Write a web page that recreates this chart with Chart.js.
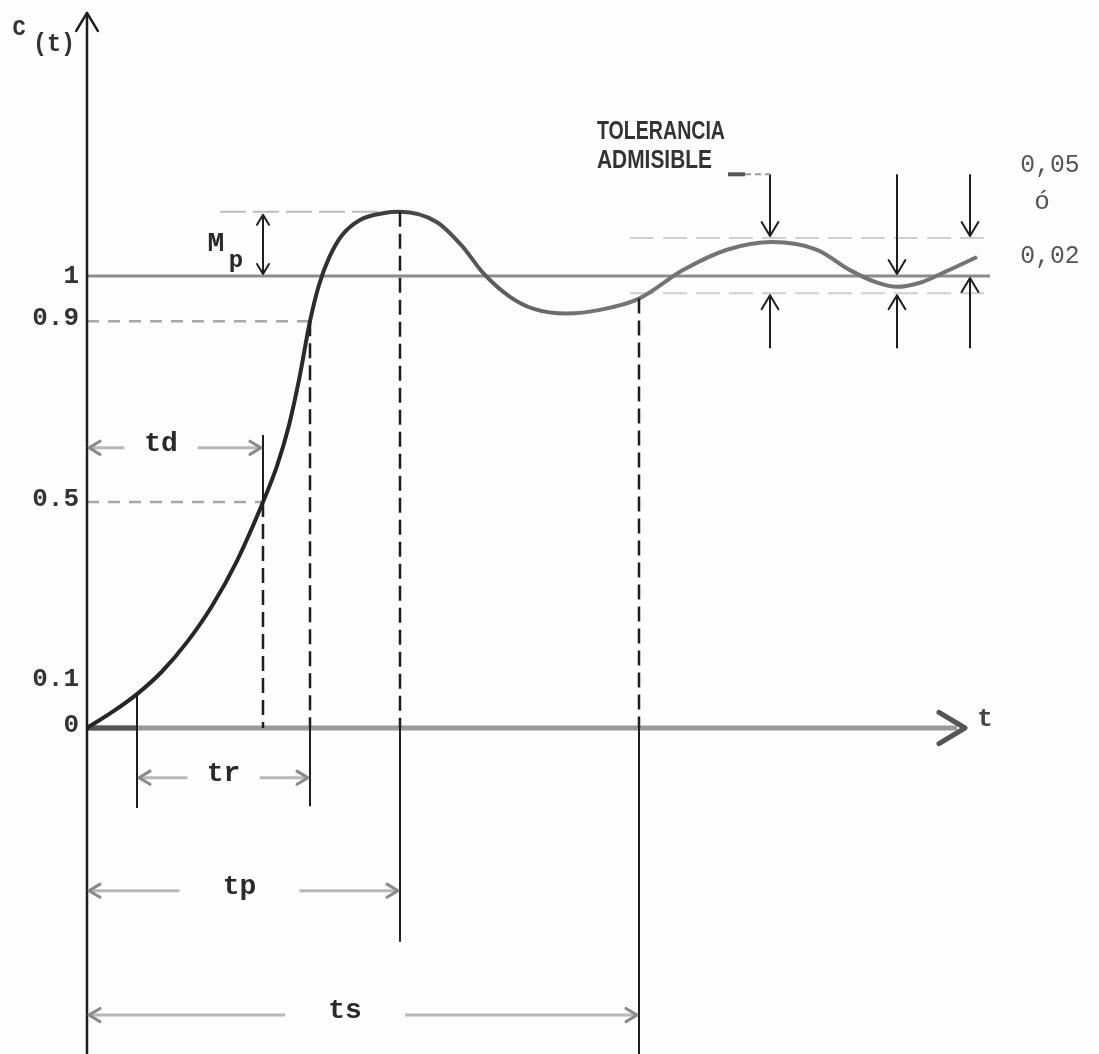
<!DOCTYPE html>
<html>
<head>
<meta charset="utf-8">
<title>Respuesta transitoria c(t)</title>
<script src="https://cdn.jsdelivr.net/npm/chart.js@4.4.1/dist/chart.umd.min.js"></script>
<style>
  html, body { margin: 0; padding: 0; background: #fff; }
  #wrap { width: 1099px; height: 1054px; position: relative; }
</style>
</head>
<body>
<div id="wrap"><canvas id="respuesta"></canvas></div>
<script>
// curva c(t): tiempos y valores
const times = [0, 0.25, 0.5, 0.75, 1.0, 1.25, 1.5, 1.76, 1.9, 2.02, 2.12, 2.23, 2.32, 2.42, 2.55, 2.73, 2.96, 3.13,
  3.5, 3.76, 3.96, 4.23, 4.46, 4.8, 5.13, 5.52, 5.96, 6.4, 6.85, 7.3, 7.63, 7.88, 8.1, 8.33, 8.58, 8.9];
const response = [0, 0.035, 0.075, 0.125, 0.19, 0.27, 0.37, 0.5, 0.58, 0.67, 0.77, 0.9, 0.98, 1.04, 1.09, 1.124, 1.139, 1.142,
  1.119, 1.064, 1.007, 0.954, 0.928, 0.917, 0.925, 0.95, 1.013, 1.058, 1.075, 1.058, 1.013, 0.987, 0.976, 0.985, 1.009, 1.042];

// niveles marcados en el eje c(t)
const levelValues = [0, 0.1, 0.5, 0.9, 1];
const levelLabels = ['0', '0.1', '0.5', '0.9', '1'];

// tiempos caracteristicos: retardo, subida, pico, establecimiento
const markerNames = ['td', 'tr', 'tp', 'ts'];
const markerFrom = [0, 0.5, 0, 0];
const markerTo = [1.76, 2.23, 3.13, 5.52];

// banda de tolerancia alrededor del valor final
const toleranceBand = [0.962, 1.084];
const toleranceLabels = ['0,05', 'ó', '0,02'];
const toleranceTitle = ['TOLERANCIA', 'ADMISIBLE'];

const MONO = '"Liberation Mono", "DejaVu Sans Mono", monospace';

function seg(ctx, x1, y1, x2, y2, color, width, dash) {
  ctx.save();
  ctx.strokeStyle = color;
  ctx.lineWidth = width;
  ctx.setLineDash(dash || []);
  ctx.beginPath();
  ctx.moveTo(x1, y1);
  ctx.lineTo(x2, y2);
  ctx.stroke();
  ctx.restore();
}

// punta de flecha abierta (V) apuntando segun el angulo
function head(ctx, x, y, angle, size, color, width) {
  ctx.save();
  ctx.translate(x, y);
  ctx.rotate(angle);
  ctx.strokeStyle = color;
  ctx.lineWidth = width;
  ctx.lineCap = 'round';
  ctx.lineJoin = 'round';
  ctx.beginPath();
  ctx.moveTo(-size, -size * 0.6);
  ctx.lineTo(0, 0);
  ctx.lineTo(-size, size * 0.6);
  ctx.stroke();
  ctx.restore();
}

function txt(ctx, s, x, y, font, align, color, scaleX) {
  ctx.save();
  ctx.font = font;
  ctx.fillStyle = color || '#222';
  ctx.textAlign = align || 'center';
  ctx.textBaseline = 'middle';
  ctx.translate(x, y);
  ctx.scale(scaleX || 1, 1);
  ctx.fillText(s, 0, 0);
  ctx.restore();
}

const RIGHT = 0, LEFT = Math.PI, DOWN = Math.PI / 2, UP = -Math.PI / 2;

// valor de la curva en un tiempo dado (interpolacion lineal entre lecturas)
function valueAt(t) {
  for (let i = 1; i < times.length; i++) {
    if (t <= times[i]) {
      const k = (t - times[i - 1]) / (times[i] - times[i - 1]);
      return response[i - 1] + k * (response[i] - response[i - 1]);
    }
  }
  return response[response.length - 1];
}

const diagram = {
  id: 'diagram',
  beforeDraw(chart) {
    const { ctx, width, height } = chart;
    ctx.save();
    ctx.fillStyle = '#fdfdfd';
    ctx.fillRect(0, 0, width, height);
    ctx.restore();
  },
  beforeDatasetsDraw(chart) {
    const ctx = chart.ctx;
    const px = v => chart.scales.x.getPixelForValue(v);
    const py = v => chart.scales.y.getPixelForValue(v);
    const peak = Math.max(...response);

    // valor final y banda de tolerancia
    seg(ctx, px(0), py(1), px(9.03), py(1), '#8c8c8c', 3);
    seg(ctx, px(5.43), py(toleranceBand[1]), px(9.03), py(toleranceBand[1]), '#cfcfcf', 2, [24, 9]);
    seg(ctx, px(5.43), py(toleranceBand[0]), px(9.03), py(toleranceBand[0]), '#cfcfcf', 2, [24, 9]);

    // lineas guia 0.9, 0.5 y sobrepaso
    seg(ctx, px(0), py(0.9), px(markerTo[1]), py(0.9), '#a8a8a8', 2.5, [12, 9]);
    seg(ctx, px(0), py(0.5), px(markerTo[0]), py(0.5), '#a8a8a8', 2.5, [12, 9]);
    seg(ctx, px(1.33), py(peak), px(markerTo[2]), py(peak), '#bdbdbd', 2, [26, 7]);

    // eje de tiempo
    seg(ctx, px(0), py(0), px(8.7), py(0), '#9a9a9a', 5);
    seg(ctx, px(0), py(0), px(markerFrom[1]), py(0), '#555', 5);
    head(ctx, px(8.78), py(0), RIGHT, 26, '#555', 5);
  },
  afterDatasetsDraw(chart) {
    const ctx = chart.ctx;
    const px = v => chart.scales.x.getPixelForValue(v);
    const py = v => chart.scales.y.getPixelForValue(v);
    const peak = Math.max(...response);
    const dash = [15, 7];
    const ink = '#1e1e1e';

    // eje c(t)
    seg(ctx, px(0), py(-0.73), px(0), py(1.58), ink, 2.5);
    head(ctx, px(0), py(1.582), UP, 18, ink, 2.5);
    txt(ctx, 'C', 19, 29, 'bold 22px ' + MONO, 'center', '#333');
    txt(ctx, '(t)', 54, 44, 'bold 26px ' + MONO, 'center', '#333', 0.9);

    levelValues.forEach((v, i) => {
      txt(ctx, levelLabels[i], px(0) - 8, py(v) + (v === 1 ? 0 : -3), 'bold 26px ' + MONO, 'right', '#333');
    });

    // verticales de cada tiempo caracteristico
    seg(ctx, px(markerFrom[1]), py(valueAt(markerFrom[1])), px(markerFrom[1]), py(-0.177), ink, 2);
    seg(ctx, px(markerTo[0]), py(0.648), px(markerTo[0]), py(0.5), ink, 2);
    seg(ctx, px(markerTo[0]), py(0.5), px(markerTo[0]), py(0), ink, 2.5, dash);
    seg(ctx, px(markerTo[1]), py(0.9), px(markerTo[1]), py(0), ink, 2.5, dash);
    seg(ctx, px(markerTo[1]), py(0), px(markerTo[1]), py(-0.173), ink, 2);
    seg(ctx, px(markerTo[2]), py(peak), px(markerTo[2]), py(0), ink, 2.5, dash);
    seg(ctx, px(markerTo[2]), py(0), px(markerTo[2]), py(-0.473), ink, 2);
    seg(ctx, px(markerTo[3]), py(valueAt(markerTo[3])), px(markerTo[3]), py(0), ink, 2.5, dash);
    seg(ctx, px(markerTo[3]), py(0), px(markerTo[3]), py(-0.73), ink, 2);

    // cotas td, tr, tp, ts
    const rows = [0.62, -0.11, -0.36, -0.635];
    const textShift = [-14, 0, -4, -18];
    markerNames.forEach((name, i) => {
      const x0 = px(markerFrom[i]), x1 = px(markerTo[i]), yy = py(rows[i]);
      const mid = (x0 + x1) / 2 + textShift[i];
      const gap = Math.min(60, 0.18 * (x1 - x0) + 5);
      seg(ctx, x0 + 3, yy, mid - gap, yy, '#b8b8b8', 3);
      seg(ctx, mid + gap, yy, x1 - 3, yy, '#b8b8b8', 3);
      head(ctx, x0 + 2, yy, LEFT, 11, '#8a8a8a', 3);
      head(ctx, x1 - 2, yy, RIGHT, 11, '#8a8a8a', 3);
      txt(ctx, name, mid, yy - 4, 'bold 28px ' + MONO, 'center', '#2a2a2a');
    });

    // sobrepaso maximo Mp
    const xm = px(markerTo[0]);
    seg(ctx, xm, py(peak) + 3, xm, py(1) - 2, ink, 2);
    head(ctx, xm, py(peak) + 3, UP, 10, ink, 2);
    head(ctx, xm, py(1) - 2, DOWN, 10, ink, 2);
    txt(ctx, 'M', xm - 47, py(1) - 32, 'bold 28px ' + MONO, 'center', '#2a2a2a');
    txt(ctx, 'p', xm - 27, py(1) - 15, 'bold 24px ' + MONO, 'center', '#2a2a2a');

    // flechas de la banda de tolerancia
    const arrowsAt = [6.83, 8.1, 8.83];
    const downTo = [toleranceBand[1], 1, toleranceBand[1]];
    const upTo = [toleranceBand[0], toleranceBand[0], 1];
    arrowsAt.forEach((t, i) => {
      const x = px(t);
      seg(ctx, x, py(1.225), x, py(downTo[i]) - 2, ink, 2);
      head(ctx, x, py(downTo[i]) - 2, DOWN, 14, ink, 2);
      seg(ctx, x, py(0.84), x, py(upTo[i]) + 2, ink, 2);
      head(ctx, x, py(upTo[i]) + 2, UP, 14, ink, 2);
    });

    // leyenda de la tolerancia
    const tx = px(5.1);
    [[toleranceTitle[0], py(1.32), 128], [toleranceTitle[1], py(1.255), 115]].forEach(([s, y, w]) => {
      ctx.save();
      ctx.font = 'bold 26px "Liberation Sans", Arial, sans-serif';
      const k = w / ctx.measureText(s).width;
      ctx.restore();
      txt(ctx, s, tx, y, 'bold 26px "Liberation Sans", Arial, sans-serif', 'left', '#333', k);
    });
    seg(ctx, px(6.41), py(1.225), px(6.58), py(1.225), '#555', 4);
    seg(ctx, px(6.58), py(1.225), px(6.83), py(1.225), '#9a9a9a', 2, [6, 4]);

    txt(ctx, toleranceLabels[0], 1050, py(1.245), '26px ' + MONO, 'center', '#555', 0.95);
    txt(ctx, toleranceLabels[1], 1042, py(1.163), '26px ' + MONO, 'center', '#555');
    txt(ctx, toleranceLabels[2], 1050, py(1.045), '26px ' + MONO, 'center', '#555', 0.95);

    txt(ctx, 't', px(8.98), py(0.02), 'bold 26px ' + MONO, 'center', '#444');
  }
};

const ctx = document.getElementById('respuesta').getContext('2d');
new Chart(ctx, {
  type: 'line',
  data: {
    datasets: [
      {
        label: 'c(t)',
        data: times.map((t, i) => ({ x: t, y: response[i] })),
        borderWidth: 4,
        pointRadius: 0,
        cubicInterpolationMode: 'monotone',
        borderColor: (c) => {
          const chart = c.chart;
          if (!chart.chartArea) return '#444';
          const g = chart.ctx.createLinearGradient(chart.scales.x.getPixelForValue(2), 0, chart.scales.x.getPixelForValue(5), 0);
          g.addColorStop(0, '#262626');
          g.addColorStop(1, '#747474');
          return g;
        },
      },
    ],
  },
  options: {
    responsive: true,
    maintainAspectRatio: false,
    animation: false,
    layout: { padding: 0 },
    plugins: {
      legend: { display: false },
      tooltip: { enabled: false },
    },
    scales: {
      x: { type: 'linear', min: -0.87, max: 10.12, display: false },
      y: { type: 'linear', min: -0.7212, max: 1.6106, display: false },
    },
  },
  plugins: [diagram],
});
</script>
</body>
</html>
